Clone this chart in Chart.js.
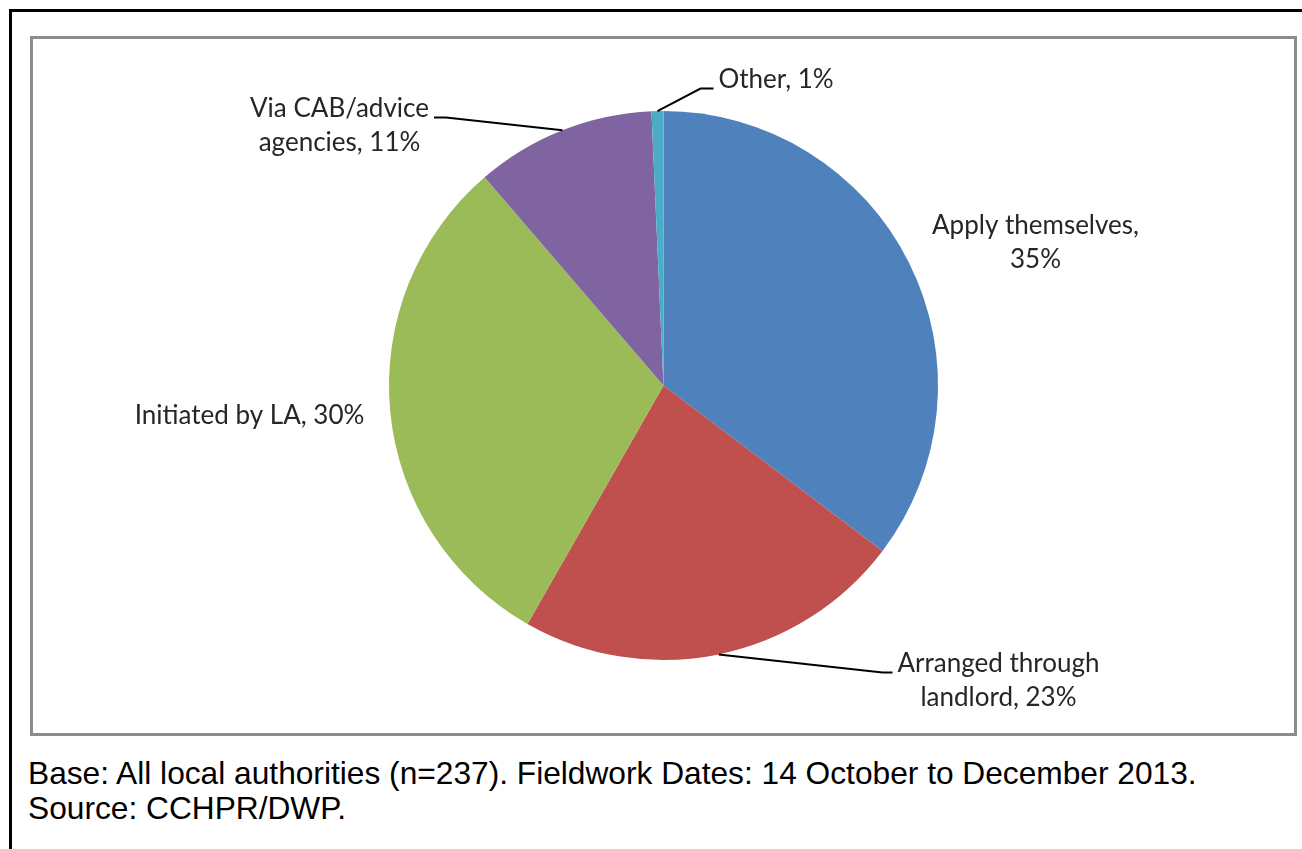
<!DOCTYPE html>
<html>
<head>
<meta charset="utf-8">
<script src="https://cdn.jsdelivr.net/npm/chart.js@4/dist/chart.umd.min.js"></script>
<style>
  html, body { margin: 0; padding: 0; background: #fff; }
  body { width: 1302px; height: 849px; position: relative; overflow: hidden; }
  #outer { position: absolute; left: 9px; top: 9px; width: 1302px; height: 860px;
           border-left: 3px solid #000; border-top: 3px solid #000; }
  #box { position: absolute; left: 30px; top: 36px; width: 1261px; height: 694px;
         border: 3px solid #8c8c8c; box-sizing: content-box; }
  #wrap { position: absolute; left: 33px; top: 39px; width: 1261px; height: 695px; }
  #caption { position: absolute; left: 28px; top: 756px; font-family: "Liberation Sans", Arial, sans-serif;
             font-size: 31.7px; line-height: 35px; color: #000; white-space: nowrap; }
</style>
</head>
<body>
<div id="outer"></div>
<div id="box"></div>
<div id="wrap"><canvas id="c"></canvas></div>
<div id="caption">Base: All local authorities (n=237). Fieldwork Dates: 14 October to December 2013.<br>Source: CCHPR/DWP.</div>
<script>
const categories = ["Apply themselves", "Arranged through landlord", "Initiated by LA", "Via CAB/advice agencies", "Other"];
const values = [35.3, 22.95, 30.45, 10.6, 0.7];
const labelLines = [
  ["Apply themselves,", "35%"],
  ["Arranged through", "landlord, 23%"],
  ["Initiated by LA, 30%"],
  ["Via CAB/advice", "agencies, 11%"],
  ["Other, 1%"]
];
const colors = ["#4F81BD", "#C0504D", "#9BBB59", "#8064A2", "#4BACC6"];

// label placement relative to pie centre (dx, dy), text alignment, leader line option
const labelPlace = [
  { dx: 372, dy: -143, align: "center", leader: false },
  { dx: 335, dy: 295, align: "center", leader: true, side: "left" },
  { dx: -414, dy: 30, align: "center", leader: false },
  { dx: -324, dy: -260, align: "center", leader: true, side: "right" },
  { dx: 55, dy: -306, align: "left", leader: true, side: "left" }
];

const labelPlugin = {
  id: "outLabels",
  afterDraw(chart) {
    const ctx = chart.ctx;
    const meta = chart.getDatasetMeta(0);
    ctx.save();
    ctx.font = "26px Lato, 'Open Sans', sans-serif";
    ctx.fillStyle = "#262626";
    ctx.textBaseline = "middle";
    const lh = 34;
    meta.data.forEach((arc, i) => {
      const p = arc.getProps(["x", "y", "startAngle", "endAngle", "outerRadius"], true);
      const lp = labelPlace[i];
      const lines = labelLines[i];
      const cx = p.x + lp.dx, cy = p.y + lp.dy;
      const widths = lines.map(l => ctx.measureText(l).width);
      const top = cy - (lines.length - 1) * lh / 2;
      lines.forEach((l, k) => {
        ctx.textAlign = lp.align;
        ctx.fillText(l, cx, top + k * lh);
      });
      if (lp.leader) {
        const mid = (p.startAngle + p.endAngle) / 2;
        const sx = p.x + Math.cos(mid) * p.outerRadius;
        const sy = p.y + Math.sin(mid) * p.outerRadius;
        let ex, ey, bx;
        if (lp.align === "left") {
          ex = cx - 5; ey = top + 9; bx = ex - 13;
        } else if (lp.side === "right") {
          ex = cx + widths[0] / 2 + 5; ey = top + 9; bx = ex + 12;
        } else {
          ex = cx - widths[0] / 2 - 5; ey = top + 9; bx = ex - 10;
        }
        ctx.strokeStyle = "#000";
        ctx.lineWidth = 2;
        ctx.beginPath();
        ctx.moveTo(sx, sy);
        ctx.lineTo(bx, ey);
        ctx.lineTo(ex, ey);
        ctx.stroke();
      }
    });
    ctx.restore();
  }
};

new Chart(document.getElementById("c"), {
  type: "pie",
  data: {
    labels: categories,
    datasets: [{ data: values, backgroundColor: colors, borderWidth: 0 }]
  },
  options: {
    responsive: true,
    maintainAspectRatio: false,
    animation: false,
    layout: { padding: { top: 72, bottom: 74, left: 0, right: 0 } },
    plugins: { legend: { display: false }, tooltip: { enabled: false } }
  },
  plugins: [labelPlugin]
});
</script>
</body>
</html>
